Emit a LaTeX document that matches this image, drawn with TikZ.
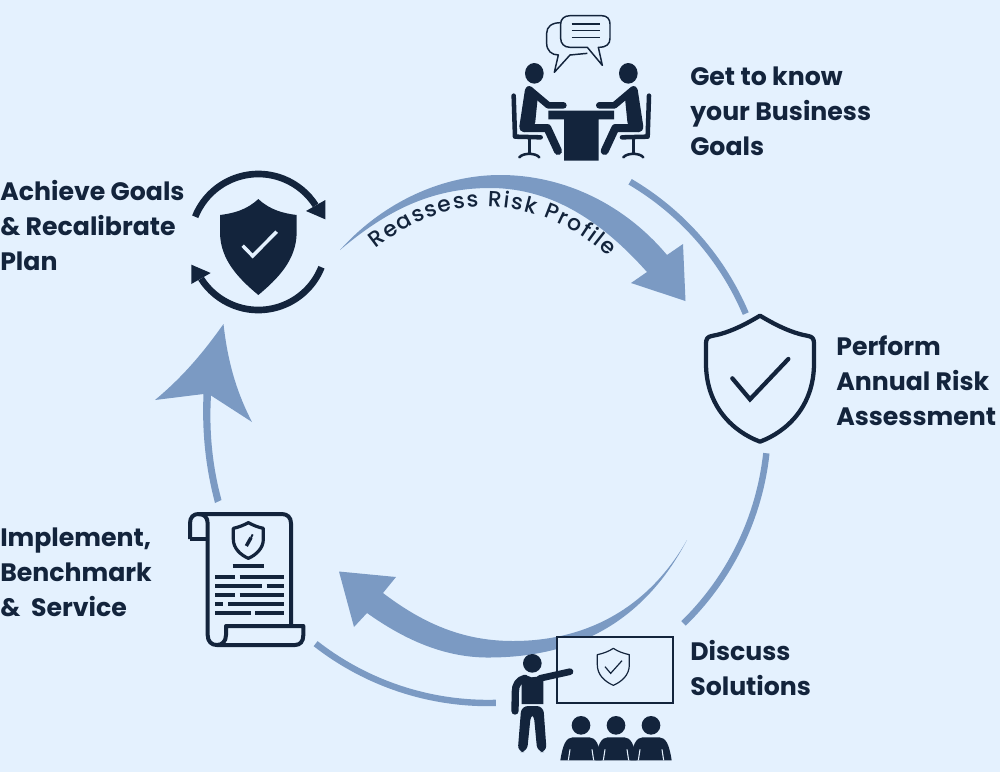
\documentclass[tikz,border=0pt]{standalone}
\usepackage{fontspec}
\setmainfont{Poppins}
\newfontfamily\curvefamily{Poppins Medium}
\usepackage{xcolor}
\usetikzlibrary{calc, decorations.text}

\definecolor{pagebg}{HTML}{E4F1FE}
\definecolor{navy}{HTML}{13243C}
\definecolor{cycleblue}{HTML}{7B9AC3}
\newcommand{\curvefont}{\curvefamily\fontsize{16.4}{18}\selectfont\color{navy}}

\begin{document}
\begin{tikzpicture}[
  x=0.75pt, y=-0.75pt,
  steplabel/.style={anchor=west, align=left, inner sep=0pt, text=navy,
                    font=\fontsize{18.9}{26.25}\selectfont\bfseries},
  ring/.style={draw=cycleblue, line width=4.8pt},
  sweep/.style={fill=cycleblue},
  ink/.style={draw=navy, fill=none},
  solid ink/.style={fill=navy},
  limb/.style={draw=navy, line cap=round, line join=round},
  bar/.style={draw=navy, line width=3.2pt}
]
\fill[pagebg] (0,0) rectangle (1000,772);
\useasboundingbox (0,0) rectangle (1000,772);

% cycle hub and the ends of the thin arcs
\coordinate (hub) at (488,423);
\coordinate (goalsEnd) at ($(hub)+(-59.5:280)$);
\coordinate (assessOut) at ($(hub)+(6.2:280)$);
\coordinate (solveOut) at ($(hub)+(88.4:280)$);

\draw[ring] (goalsEnd) arc[start angle=-59.5, end angle=-23, radius=280];
\draw[ring] (assessOut) arc[start angle=6.2, end angle=45.7, radius=280];
\draw[ring] (solveOut) arc[start angle=88.4, end angle=128, radius=280];

% wide arrows
\fill[sweep] (340,250) .. controls (385,200) and (445,175) .. (500,175)
  .. controls (565,175) and (625,205) .. (667,255)
  -- (683,244) -- (685.5,301) -- (631,283) -- (647,272)
  .. controls (605,225) and (555,188) .. (490,188)
  .. controls (430,188) and (385,212) .. (340,250) -- cycle;
\fill[sweep] (687,540) .. controls (650,605) and (590,641) .. (513,641)
  .. controls (465,641) and (425,625) .. (383,593)
  -- (396,577) -- (339,571.5) -- (354,627) -- (367,613)
  .. controls (405,640) and (445,658) .. (490,657.5)
  .. controls (590,657) and (650,610) .. (687,540) -- cycle;
\fill[sweep] (223.5,324) .. controls (228,365) and (238,395) .. (252,422)
  -- (211,395.5) .. controls (209,430) and (212,465) .. (221.5,500)
  -- (215,503) .. controls (205,465) and (202,430) .. (203.5,394)
  -- (155,400) .. controls (185,375) and (205,350) .. (223.5,324) -- cycle;

% curved caption
\path[decorate, decoration={text along path, text align={fit to path},
      text=|\curvefont|Reassess Risk Profile}]
  (376,249) .. controls (410,222) and (445,207) .. (485,207)
  .. controls (530,207) and (575,225) .. (608,257);

% two people at a table
\begin{scope}[shift={(490,0)}, scale=1/3]
  \draw[ink, line width=1.1pt, fill=pagebg, line join=round] (212,68) .. controls (185,68) and (170,80) .. (170,100)
    -- (170,130) .. controls (170,152) and (185,165) .. (205,165)
    -- (193,217) -- (240,165) -- (292,160);
  \draw[ink, line width=1.1pt, fill=pagebg, line join=round] (240,47) -- (335,47)
    .. controls (352,47) and (360,58) .. (360,72) -- (360,115)
    .. controls (360,132) and (350,142) .. (325,142) -- (337,196)
    -- (292,142) -- (240,142) .. controls (222,142) and (212,130) .. (212,115)
    -- (212,72) .. controls (212,58) and (222,47) .. (240,47) -- cycle;
  \foreach \y in {72,92,112}
    \draw[navy, line width=1.1pt] (245,\y) -- (330,\y);
  \foreach \s in {1,-1} {
  \begin{scope}[shift={(274,0)}, xscale=\s]
    \fill[solid ink] (-141,220) ellipse[x radius=28, y radius=31];
    \draw[limb, line width=5pt] (-156,268) -- (-99,316) -- (-54,316);
    \fill[solid ink, rounded corners=2pt] (-156,258) -- (-130,285) -- (-139,374)
      -- (-165,396) -- (-178,396) -- (-187,386) -- (-168,262) -- cycle;
    \draw[limb, line width=6pt] (-172,384) -- (-102,384) -- (-70,453);
    \draw[limb, line width=3.4pt] (-203,287) -- (-199,410) -- (-122,412);
    \draw[navy, line width=1.9pt] (-156,412) -- (-156,458);
    \draw[limb, line width=1.9pt] (-186,472)
      .. controls (-175,458) and (-137,458) .. (-126,472);
  \end{scope}
  }
  \fill[solid ink] (175,332) rectangle (372,358) (222,358) rectangle (326,482);
\end{scope}

% shield with the two turning arrows
\begin{scope}[shift={(170,150)}, scale=1/3]
  \fill[solid ink] (265,147) .. controls (230,180) and (190,190) .. (150,195)
    -- (150,250) .. controls (152,330) and (205,385) .. (265,435)
    .. controls (325,385) and (378,330) .. (380,250)
    -- (380,195) .. controls (340,190) and (300,180) .. (265,147) -- cycle;
  \draw[pagebg, line width=2.6pt] (218,287) -- (248,318) -- (320,245);
  \foreach \r in {0,180} {
  \begin{scope}[rotate around={\r:(265,276)}]
    \draw[navy, line width=5pt] (265,276) ++(201.8:204) arc[start angle=201.8, end angle=327.4, radius=204];
    \fill[solid ink] (466,208) -- (466,150) -- (408,183) -- cycle;
  \end{scope}
  }
\end{scope}

% outlined shield
\begin{scope}[shift={(690,300)}, scale=1/3]
  \draw[ink, line width=3.2pt, line join=round] (210,47)
    .. controls (265,80) and (310,100) .. (355,108)
    .. controls (368,110) and (372,118) .. (372,130) -- (372,190)
    .. controls (372,320) and (290,395) .. (210,425)
    .. controls (130,395) and (48,320) .. (48,190) -- (48,130)
    .. controls (48,118) and (52,110) .. (65,108)
    .. controls (110,100) and (155,80) .. (210,47) -- cycle;
  \draw[navy, line width=3.2pt, line cap=round, line join=miter] (127,235) -- (180,298) -- (295,177);
\end{scope}

% presenter, board and audience
\begin{scope}[shift={(490,620)}, scale=1/3]
  \draw[ink, fill=pagebg, line width=1.4pt] (202,50) rectangle (548,248);
  \draw[ink, line width=0.9pt, line join=round] (370,85) .. controls (385,95) and (400,100) .. (418,104)
    -- (418,135) .. controls (418,165) and (395,185) .. (370,196)
    .. controls (345,185) and (322,165) .. (322,135) -- (322,104)
    .. controls (340,100) and (355,95) .. (370,85) -- cycle;
  \draw[navy, line width=0.9pt] (345,140) -- (362,160) -- (396,122);
  \fill[solid ink] (127,130) circle[radius=28];
  \draw[limb, line width=5pt] (150,175) -- (240,155);
  \fill[solid ink] (105,165) -- (125,172) -- (160,168) -- (160,252) -- (95,252) -- (95,190) -- cycle;
  \draw[limb, line width=5.5pt] (105,175) .. controls (85,180) and (76,195) .. (76,215) -- (75,273);
  \fill[solid ink, rounded corners=5pt] (94,258) -- (160,258) -- (170,396) -- (142,396)
    -- (131,280) -- (123,280) -- (111,396) -- (83,396) -- cycle;
  \foreach \x in {273,378,483} {
    \fill[solid ink] (\x,316) circle[radius=28];
    \fill[solid ink] (\x-62,421) .. controls (\x-55,375) and (\x-45,352) .. (\x-25,352)
      -- (\x+25,352) .. controls (\x+45,352) and (\x+55,375) .. (\x+62,421) -- cycle;
    \draw[pagebg, line width=0.8pt] (\x-38,421) -- (\x-33,388) (\x+38,421) -- (\x+33,388);
  }
\end{scope}

% scroll document
\begin{scope}[shift={(170,500)}, scale=1/3]
  \draw[ink, line width=3pt, line join=round] (60,117) -- (60,70)
    .. controls (60,52) and (70,42) .. (85,42) -- (335,42)
    .. controls (352,42) and (363,52) .. (363,70) -- (363,378);
  \draw[ink, line width=3pt, line join=round] (60,117) -- (113,117);
  \draw[ink, line width=3pt, line join=round] (85,42) .. controls (103,42) and (113,52) .. (113,70)
    -- (113,405) .. controls (113,425) and (125,435) .. (140,435)
    .. controls (156,435) and (168,425) .. (168,405) -- (168,378) -- (400,378)
    -- (400,405) .. controls (400,425) and (390,435) .. (375,435) -- (140,435);
  \draw[ink, line width=2.4pt, line join=round] (235,68) .. controls (250,76) and (265,82) .. (280,85)
    -- (280,118) .. controls (280,145) and (258,165) .. (235,175)
    .. controls (212,165) and (190,145) .. (190,118) -- (190,85)
    .. controls (205,82) and (220,76) .. (235,68) -- cycle;
  \draw[navy, line width=2.6pt] (229,138) -- (243,113);
  \draw[navy, line width=1.4pt] (243,113) -- (248,103);
  \draw[bar] (188,198) -- (283,198);
  \foreach \y/\a/\b in {232/195/209, 259/275/290, 285/195/209, 312/160/175, 340/242/256}
    \draw[bar] (135,\y) -- (\a,\y) (\b,\y) -- (343,\y);
\end{scope}

% step labels
\node[steplabel] (goalsLabel) at (690,111.5) {Get to know\\your Business\\Goals};
\node[steplabel] (assessLabel) at (836,381) {Perform\\Annual Risk\\Assessment};
\node[steplabel] (solveLabel) at (690,668) {Discuss\\Solutions};
\node[steplabel] (planLabel) at (0,572) {Implement,\\Benchmark\\\&\ \ Service};
\node[steplabel] (achieveLabel) at (0,226) {Achieve Goals\\\& Recalibrate\\Plan};
\end{tikzpicture}
\end{document}
